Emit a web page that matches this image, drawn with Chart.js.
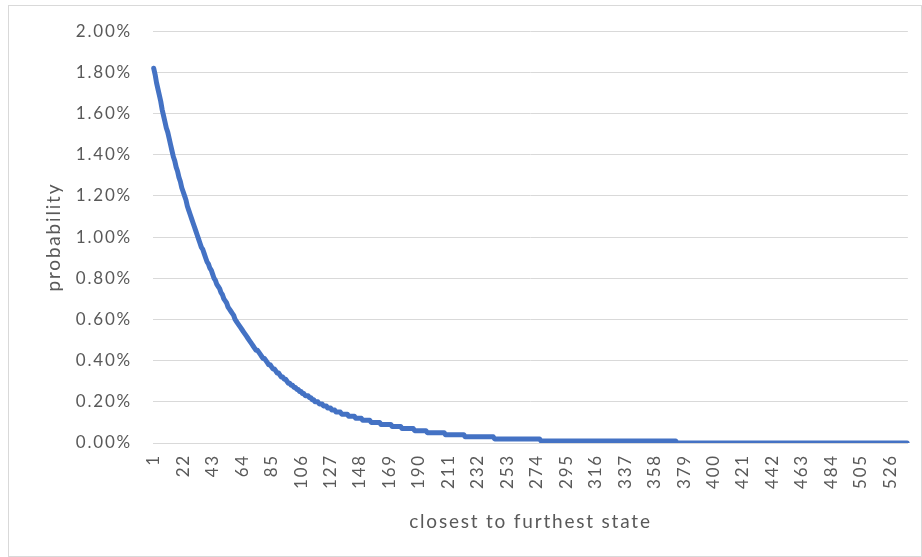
<!DOCTYPE html>
<html>
<head>
<meta charset="utf-8">
<script src="https://cdn.jsdelivr.net/npm/chart.js@4.4.1/dist/chart.umd.min.js"></script>
<style>
  html, body { margin: 0; padding: 0; background: #fff; }
  #wrap { position: relative; width: 922px; height: 557px; }
  #myChart { display: block; }
  #frame { position: absolute; left: 8px; top: 5px; width: 914px; height: 552px; border: 1px solid #d9d9d9; box-sizing: border-box; pointer-events: none; }
</style>
</head>
<body>
<div id="wrap">
  <canvas id="myChart" width="922" height="557"></canvas>
  <div id="frame"></div>
</div>
<script>
// probability (in %) of each state, ordered closest to furthest
const probability = [
  1.82, 1.79, 1.75, 1.72, 1.69, 1.66, 1.62, 1.59, 1.56, 1.53,
  1.51, 1.48, 1.45, 1.42, 1.39, 1.37, 1.34, 1.32, 1.29, 1.27,
  1.24, 1.22, 1.20, 1.18, 1.15, 1.13, 1.11, 1.09, 1.07, 1.05,
  1.03, 1.01, 0.99, 0.97, 0.95, 0.94, 0.92, 0.90, 0.88, 0.87,
  0.85, 0.84, 0.82, 0.80, 0.79, 0.77, 0.76, 0.75, 0.73, 0.72,
  0.70, 0.69, 0.68, 0.66, 0.65, 0.64, 0.63, 0.62, 0.60, 0.59,
  0.58, 0.57, 0.56, 0.55, 0.54, 0.53, 0.52, 0.51, 0.50, 0.49,
  0.48, 0.47, 0.46, 0.45, 0.45, 0.44, 0.43, 0.42, 0.41, 0.41,
  0.40, 0.39, 0.38, 0.38, 0.37, 0.36, 0.36, 0.35, 0.34, 0.34,
  0.33, 0.32, 0.32, 0.31, 0.31, 0.30, 0.29, 0.29, 0.28, 0.28,
  0.27, 0.27, 0.26, 0.26, 0.25, 0.25, 0.24, 0.24, 0.23, 0.23,
  0.23, 0.22, 0.22, 0.21, 0.21, 0.20, 0.20, 0.20, 0.19, 0.19,
  0.19, 0.18, 0.18, 0.18, 0.17, 0.17, 0.17, 0.16, 0.16, 0.16,
  0.15, 0.15, 0.15, 0.15, 0.14, 0.14, 0.14, 0.14, 0.14, 0.13,
  0.13, 0.13, 0.13, 0.13, 0.12, 0.12, 0.12, 0.12, 0.12, 0.11,
  0.11, 0.11, 0.11, 0.11, 0.11, 0.10, 0.10, 0.10, 0.10, 0.10,
  0.10, 0.10, 0.09, 0.09, 0.09, 0.09, 0.09, 0.09, 0.09, 0.09,
  0.08, 0.08, 0.08, 0.08, 0.08, 0.08, 0.08, 0.07, 0.07, 0.07,
  0.07, 0.07, 0.07, 0.07, 0.07, 0.07, 0.06, 0.06, 0.06, 0.06,
  0.06, 0.06, 0.06, 0.06, 0.06, 0.05, 0.05, 0.05, 0.05, 0.05,
  0.05, 0.05, 0.05, 0.05, 0.05, 0.05, 0.05, 0.05, 0.04, 0.04,
  0.04, 0.04, 0.04, 0.04, 0.04, 0.04, 0.04, 0.04, 0.04, 0.04,
  0.04, 0.04, 0.03, 0.03, 0.03, 0.03, 0.03, 0.03, 0.03, 0.03,
  0.03, 0.03, 0.03, 0.03, 0.03, 0.03, 0.03, 0.03, 0.03, 0.03,
  0.03, 0.03, 0.03, 0.02, 0.02, 0.02, 0.02, 0.02, 0.02, 0.02,
  0.02, 0.02, 0.02, 0.02, 0.02, 0.02, 0.02, 0.02, 0.02, 0.02,
  0.02, 0.02, 0.02, 0.02, 0.02, 0.02, 0.02, 0.02, 0.02, 0.02,
  0.02, 0.02, 0.02, 0.02, 0.02, 0.02, 0.01, 0.01, 0.01, 0.01,
  0.01, 0.01, 0.01, 0.01, 0.01, 0.01, 0.01, 0.01, 0.01, 0.01,
  0.01, 0.01, 0.01, 0.01, 0.01, 0.01, 0.01, 0.01, 0.01, 0.01,
  0.01, 0.01, 0.01, 0.01, 0.01, 0.01, 0.01, 0.01, 0.01, 0.01,
  0.01, 0.01, 0.01, 0.01, 0.01, 0.01, 0.01, 0.01, 0.01, 0.01,
  0.01, 0.01, 0.01, 0.01, 0.01, 0.01, 0.01, 0.01, 0.01, 0.01,
  0.01, 0.01, 0.01, 0.01, 0.01, 0.01, 0.01, 0.01, 0.01, 0.01,
  0.01, 0.01, 0.01, 0.01, 0.01, 0.01, 0.01, 0.01, 0.01, 0.01,
  0.01, 0.01, 0.01, 0.01, 0.01, 0.01, 0.01, 0.01, 0.01, 0.01,
  0.01, 0.01, 0.01, 0.01, 0.01, 0.01, 0.01, 0.01, 0.01, 0.01,
  0.01, 0.01, 0.01, 0, 0, 0, 0, 0, 0, 0,
  0, 0, 0, 0, 0, 0, 0, 0, 0, 0,
  0, 0, 0, 0, 0, 0, 0, 0, 0, 0,
  0, 0, 0, 0, 0, 0, 0, 0, 0, 0,
  0, 0, 0, 0, 0, 0, 0, 0, 0, 0,
  0, 0, 0, 0, 0, 0, 0, 0, 0, 0,
  0, 0, 0, 0, 0, 0, 0, 0, 0, 0,
  0, 0, 0, 0, 0, 0, 0, 0, 0, 0,
  0, 0, 0, 0, 0, 0, 0, 0, 0, 0,
  0, 0, 0, 0, 0, 0, 0, 0, 0, 0,
  0, 0, 0, 0, 0, 0, 0, 0, 0, 0,
  0, 0, 0, 0, 0, 0, 0, 0, 0, 0,
  0, 0, 0, 0, 0, 0, 0, 0, 0, 0,
  0, 0, 0, 0, 0, 0, 0, 0, 0, 0,
  0, 0, 0, 0, 0, 0, 0, 0, 0, 0,
  0, 0, 0, 0, 0, 0, 0, 0, 0, 0,
  0, 0, 0, 0, 0, 0, 0, 0
];

// state numbers 1..N along the category axis
const states = probability.map((v, i) => String(i + 1));
const labelEvery = 21;

const textColor = '#595959';
const gridColor = '#d9d9d9';
const fontFamily = 'Lato, "Open Sans", sans-serif';

// the original's text is set a little loose, so widen the letters
const spacing = {
  id: 'spacing',
  beforeLayout(chart) { chart.ctx.letterSpacing = '1.8px'; },
  beforeDraw(chart) { chart.ctx.letterSpacing = '1.8px'; }
};

let ctx = document.getElementById('myChart');
let myChart = new Chart(ctx, {
  type: 'line',
  data: {
    labels: states,
    datasets: [{
      label: 'probability',
      data: probability,
      borderColor: '#4472c4',
      borderWidth: 5,
      pointRadius: 0,
      tension: 0,
      fill: false,
      borderCapStyle: 'round',
      borderJoinStyle: 'round'
    }]
  },
  plugins: [spacing],
  options: {
    responsive: false,
    animation: false,
    layout: {
      padding: { left: 8, right: 12, top: 31, bottom: 0 }
    },
    plugins: {
      legend: { display: false },
      tooltip: { enabled: false }
    },
    scales: {
      x: {
        offset: true,
        grid: { display: false, drawTicks: false },
        border: { display: true, color: gridColor, width: 1 },
        ticks: {
          autoSkip: false,
          minRotation: 90,
          maxRotation: 90,
          padding: 11,
          color: textColor,
          font: { family: fontFamily, size: 17 },
          callback: function(val, index) {
            return index % labelEvery === 0 ? states[index] : null;
          }
        },
        title: {
          display: true,
          text: 'closest to furthest state',
          color: textColor,
          font: { family: fontFamily, size: 19 },
          padding: { top: 0, bottom: 24 }
        },
        afterFit: function(scale) { scale.height = 114; }
      },
      y: {
        min: 0,
        max: 2,
        grid: { color: gridColor, lineWidth: 1, drawTicks: false },
        border: { display: false },
        ticks: {
          stepSize: 0.2,
          padding: 21,
          color: textColor,
          font: { family: fontFamily, size: 17 },
          callback: v => v.toFixed(2) + '%'
        },
        title: {
          display: true,
          text: 'probability',
          color: textColor,
          font: { family: fontFamily, size: 19 },
          padding: { top: 34, bottom: 0 }
        },
        afterFit: function(scale) { scale.width = 145; }
      }
    }
  }
});
</script>
</body>
</html>
